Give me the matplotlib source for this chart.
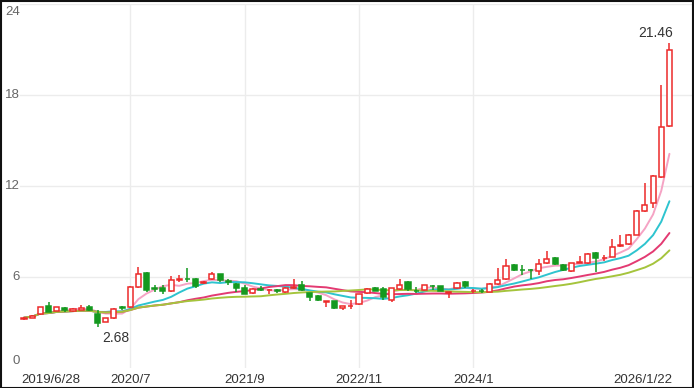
import matplotlib
matplotlib.use("Agg")
import matplotlib.pyplot as plt
import matplotlib.transforms as mtransforms
from matplotlib.patches import Rectangle
import numpy as np
import pandas as pd

# ---- data (monthly candles, 2019/6 .. 2026/1) ----
opens = [3.22, 3.32, 3.55, 4.10, 3.78, 3.95, 3.78, 3.85, 4.00, 3.55,
         3.05, 3.30, 4.00, 4.00, 5.36, 6.28, 5.28, 5.27, 5.05, 5.83,
         5.90, 5.87, 5.60, 5.87, 6.20, 5.75, 5.56, 5.25, 4.95, 5.22,
         5.12, 5.15, 5.00, 5.28, 5.45, 4.92, 4.77, 4.38, 4.40, 3.95,
         4.08, 4.20, 4.95, 5.30, 5.20, 4.50, 5.20, 5.70, 5.08, 5.16,
         5.42, 5.38, 4.95, 5.27, 5.70, 5.05, 5.10, 5.03, 5.52, 5.85,
         6.79, 6.48, 6.47, 6.40, 6.90, 7.24, 6.79, 6.40, 6.94, 6.90,
         7.60, 7.22, 7.35, 8.04, 8.17, 8.80, 10.37, 10.90, 12.61, 15.95]
closes = [3.32, 3.45, 4.00, 3.72, 4.00, 3.85, 3.92, 3.95, 3.80, 3.00,
          3.28, 3.90, 3.95, 5.36, 6.20, 5.14, 5.22, 5.05, 5.80, 5.88,
          5.85, 5.43, 5.70, 6.20, 5.78, 5.68, 5.27, 4.90, 5.20, 5.15,
          5.16, 5.05, 5.30, 5.32, 5.13, 4.65, 4.47, 4.42, 3.95, 4.10,
          4.12, 4.85, 5.20, 5.10, 4.70, 5.25, 5.50, 5.20, 5.05, 5.45,
          5.38, 5.10, 4.98, 5.60, 5.38, 5.10, 5.05, 5.52, 5.80, 6.72,
          6.46, 6.44, 6.43, 6.85, 7.17, 6.85, 6.46, 6.90, 6.98, 7.50,
          7.24, 7.26, 8.00, 8.08, 8.77, 10.37, 10.75, 12.66, 15.87, 20.96]
highs = [3.38, 3.52, 4.05, 4.35, 4.02, 4.00, 3.95, 4.15, 4.15, 3.80,
         3.32, 3.95, 4.08, 5.40, 6.65, 6.30, 5.50, 5.50, 6.05, 6.10,
         6.60, 5.95, 5.75, 6.30, 6.22, 5.90, 5.60, 5.45, 5.25, 5.42,
         5.18, 5.20, 5.35, 5.85, 5.75, 4.95, 4.80, 4.45, 4.42, 4.12,
         4.50, 4.90, 5.25, 5.35, 5.35, 5.30, 5.85, 5.75, 5.35, 5.50,
         5.45, 5.42, 5.00, 5.65, 5.75, 5.20, 5.20, 5.60, 6.60, 7.17,
         6.85, 6.80, 6.55, 7.20, 7.70, 7.30, 6.85, 6.95, 7.40, 7.55,
         7.65, 7.45, 8.50, 8.80, 8.85, 10.45, 12.17, 12.70, 18.66, 21.46]
lows = [3.18, 3.28, 3.50, 3.70, 3.75, 3.68, 3.72, 3.80, 3.75, 2.68,
        3.02, 3.25, 3.80, 3.95, 5.30, 5.00, 5.00, 4.85, 5.00, 5.70,
        5.70, 5.30, 5.55, 5.80, 5.70, 5.50, 5.00, 4.85, 4.90, 5.10,
        4.90, 4.95, 4.95, 5.20, 5.05, 4.45, 4.40, 4.00, 3.90, 3.85,
        3.90, 4.15, 4.90, 5.05, 4.50, 4.35, 5.15, 5.10, 4.95, 5.10,
        5.15, 5.05, 4.60, 5.20, 5.30, 4.95, 4.95, 5.00, 5.45, 5.80,
        6.40, 6.10, 5.85, 6.10, 6.85, 6.80, 6.40, 6.35, 6.90, 6.85,
        6.30, 7.05, 7.30, 8.00, 8.10, 8.75, 10.30, 10.55, 12.55, 15.90]

tick_idx = [0, 13, 27, 41, 55, 79]
tick_labels = ["2019/6/28", "2020/7", "2021/9", "2022/11", "2024/1", "2026/1/22"]
y_ticks = [0, 6, 12, 18, 24]
ma_windows = [5, 10, 20, 30]
ma_colors = ["#f5a3c4", "#2ec4cf", "#e33a72", "#a5c43c"]

UP = "#ec2a2a"
DOWN = "#14991f"
FONT = ["Liberation Sans", "DejaVu Sans"]

# ---- figure ----
W, H = 694, 388
fig = plt.figure(figsize=(W / 100, H / 100), dpi=100)
fig.patch.set_facecolor("white")
ax = fig.add_axes([2 / W, (H - 368) / H, 690 / W, 364 / H])
ax.set_facecolor("white")
for s in ax.spines.values():
    s.set_visible(False)

n = len(closes)
x = np.arange(n)
o = np.array(opens); c = np.array(closes); h = np.array(highs); l = np.array(lows)

ax.set_xlim(-22 / 8.17, (692 - 24) / 8.17)
ax.set_ylim(0, 24)

# grid
gx0 = (20 - 2) / 690
for yv in y_ticks[1:]:
    ax.axhline(yv, xmin=gx0, xmax=1, color="#ececec", lw=1, zorder=0)
for xi in tick_idx[1:-1]:
    ax.axvline(xi, color="#ececec", lw=1, zorder=0)

# moving averages
cs = pd.Series(c)
for w, col in zip(ma_windows, ma_colors):
    ma = cs.rolling(w, min_periods=1).mean()
    ax.plot(x, ma, color=col, lw=1.4, zorder=2, solid_capstyle="round")

# candles
up = c >= o
bw = 0.62
ax.vlines(x[up], l[up], h[up], color=UP, lw=1.1, zorder=3)
ax.vlines(x[~up], l[~up], h[~up], color=DOWN, lw=1.1, zorder=3)
bottom = np.minimum(o, c)
height = np.maximum(np.abs(c - o), 0.04)
ax.bar(x[up], height[up], bottom=bottom[up], width=bw, facecolor="white",
       edgecolor=UP, linewidth=1.1, zorder=4)
ax.bar(x[~up], height[~up], bottom=bottom[~up], width=bw, facecolor=DOWN,
       edgecolor=DOWN, linewidth=1.1, zorder=4)

# axis labels
ax.set_xticks(tick_idx)
ax.set_xticklabels(tick_labels)
ax.tick_params(axis="x", length=0, pad=4, labelsize=9.5, labelcolor="#333333")
labs = ax.get_xticklabels()
for lab in labs:
    lab.set_fontfamily(FONT)
labs[0].set_horizontalalignment("left")
labs[-1].set_horizontalalignment("right")
labs[0].set_transform(labs[0].get_transform() + mtransforms.ScaledTranslation(-3 / 100, 0, fig.dpi_scale_trans))
labs[-1].set_transform(labs[-1].get_transform() + mtransforms.ScaledTranslation(3 / 100, 0, fig.dpi_scale_trans))
ax.set_yticks([])

ytrans = mtransforms.blended_transform_factory(fig.transFigure, ax.transData)
for yv in y_ticks:
    va = "center"
    dy = 0
    if yv == 24:
        va = "top"; dy = -2
    if yv == 0:
        va = "bottom"; dy = 1
    ax.annotate(str(yv), xy=(20 / W, yv), xycoords=ytrans, xytext=(0, dy),
                textcoords="offset pixels", ha="right", va=va, fontsize=9.5,
                color="#666666", family=FONT)

# extreme annotations
imax = int(np.argmax(h)); imin = int(np.argmin(l))
ax.annotate(f"{h[imax]:.2f}", xy=(imax, h[imax]), xytext=(4, 3), textcoords="offset pixels",
            ha="right", va="bottom", fontsize=10, color="#333333", family=FONT, zorder=6)
ax.annotate(f"{l[imin]:.2f}", xy=(imin, l[imin]), xytext=(5, -4), textcoords="offset pixels",
            ha="left", va="top", fontsize=10, color="#333333", family=FONT, zorder=6)

# outer border
fig.patches.append(Rectangle((0.5 / W, 0.5 / H), 1 - 1.5 / W, 1 - 1.5 / H, transform=fig.transFigure,
                             fill=False, edgecolor="#111111", lw=1.5, zorder=10))

fig.savefig("out.png", dpi=100, facecolor="white")
